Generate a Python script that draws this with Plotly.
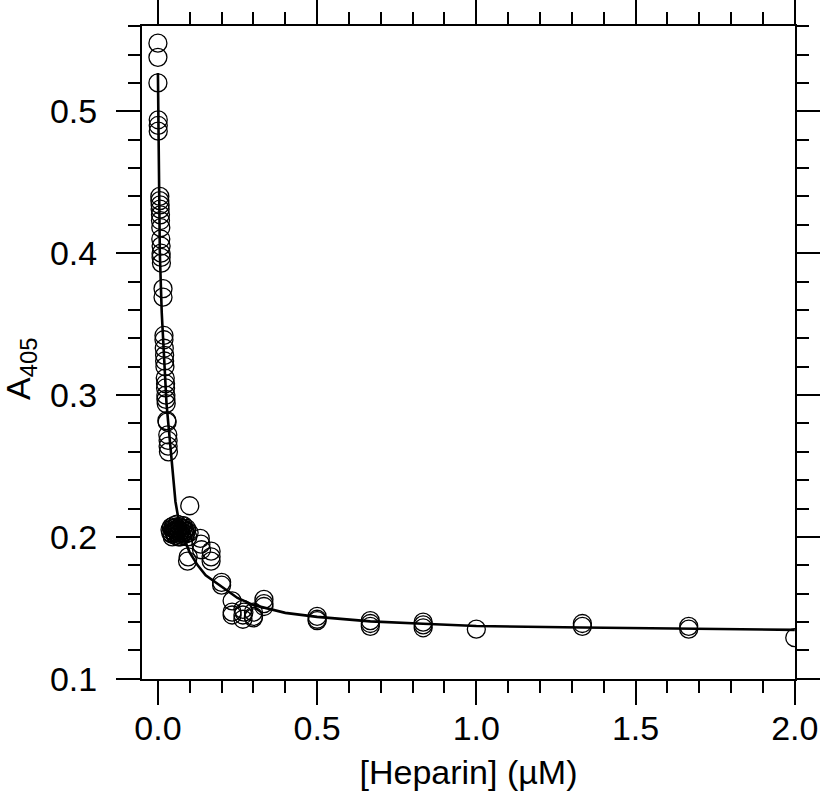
import plotly.graph_objects as go

# Measured data points: [Heparin] (µM) and A405
heparin = [
    0.000, 0.000, 0.000, 0.001, 0.001, 0.001,
    0.006, 0.006, 0.007, 0.007, 0.008, 0.008, 0.009, 0.009, 0.010, 0.010, 0.010, 0.011,
    0.016, 0.016,
    0.019, 0.019, 0.020, 0.021, 0.021, 0.022,
    0.023, 0.024, 0.024, 0.025, 0.025, 0.026,
    0.028, 0.029,
    0.031, 0.032, 0.032, 0.033,
    0.038, 0.040, 0.042, 0.044, 0.046, 0.048, 0.050, 0.052, 0.054, 0.056,
    0.058, 0.060, 0.062, 0.064, 0.066, 0.068, 0.070, 0.072, 0.075, 0.078,
    0.080, 0.083, 0.086, 0.090, 0.094, 0.098, 0.045, 0.055, 0.065, 0.075,
    0.085, 0.050, 0.060, 0.070, 0.080, 0.090,
    0.100, 0.093, 0.095,
    0.133, 0.135, 0.137,
    0.167, 0.167, 0.167,
    0.200, 0.200,
    0.233, 0.233, 0.233,
    0.267, 0.267, 0.267, 0.270,
    0.300, 0.300, 0.300,
    0.333, 0.333, 0.333,
    0.500, 0.500, 0.500,
    0.667, 0.667, 0.667,
    0.833, 0.833, 0.833,
    1.000,
    1.333, 1.333,
    1.667, 1.667,
    2.000,
]
a405 = [
    0.548, 0.538, 0.520, 0.494, 0.490, 0.486,
    0.440, 0.437, 0.434, 0.431, 0.427, 0.423, 0.418, 0.410, 0.405, 0.400, 0.397, 0.393,
    0.375, 0.369,
    0.342, 0.339, 0.333, 0.328, 0.324, 0.320,
    0.312, 0.308, 0.305, 0.300, 0.297, 0.294,
    0.282, 0.281,
    0.272, 0.268, 0.264, 0.260,
    0.205, 0.203, 0.207, 0.202, 0.206, 0.204, 0.208, 0.203, 0.205, 0.201,
    0.207, 0.204, 0.206, 0.202, 0.205, 0.203, 0.207, 0.204, 0.201, 0.206,
    0.203, 0.205, 0.202, 0.204, 0.200, 0.203, 0.200, 0.201, 0.200, 0.208,
    0.204, 0.206, 0.209, 0.200, 0.208, 0.206,
    0.222, 0.183, 0.186,
    0.199, 0.195, 0.191,
    0.190, 0.186, 0.183,
    0.168, 0.166,
    0.155, 0.147, 0.145,
    0.149, 0.145, 0.142, 0.147,
    0.147, 0.144, 0.143,
    0.156, 0.153, 0.151,
    0.144, 0.142, 0.141,
    0.141, 0.139, 0.137,
    0.140, 0.138, 0.136,
    0.135,
    0.139, 0.137,
    0.137, 0.135,
    0.129,
]

# Fitted curve
fit_x = [0.0, 0.006, 0.012, 0.020, 0.027, 0.033, 0.040, 0.048, 0.055, 0.065,
         0.080, 0.100, 0.125, 0.150, 0.200, 0.250, 0.300, 0.400, 0.500, 0.667,
         0.833, 1.000, 1.333, 1.667, 2.000]
fit_y = [0.527, 0.400, 0.358, 0.322, 0.294, 0.279, 0.260, 0.238, 0.225, 0.212,
         0.200, 0.189, 0.180, 0.173, 0.165, 0.157, 0.152, 0.1465, 0.1437, 0.1405,
         0.1388, 0.1372, 0.1362, 0.1355, 0.1345]

x_ticks = [0.0, 0.5, 1.0, 1.5, 2.0]
x_ticklabels = ["0.0", "0.5", "1.0", "1.5", "2.0"]
y_ticks = [0.1, 0.2, 0.3, 0.4, 0.5]
y_ticklabels = ["0.1", "0.2", "0.3", "0.4", "0.5"]

FONT = "Liberation Sans, Arial, sans-serif"

fig = go.Figure()
fig.add_trace(go.Scatter(
    x=heparin, y=a405, mode="markers",
    marker=dict(symbol="circle-open", size=18, color="black",
                line=dict(width=1.3, color="black")),
    showlegend=False,
))
fig.add_trace(go.Scatter(
    x=fit_x, y=fit_y, mode="lines",
    line=dict(color="black", width=2.6),
    showlegend=False,
))

axis_common = dict(
    showline=True, linecolor="black", linewidth=2,
    mirror="allticks", ticks="outside", ticklen=24, tickwidth=2, tickcolor="black",
    showgrid=False, zeroline=False, automargin=False,
    tickfont=dict(family=FONT, size=34, color="black"),
)

fig.update_xaxes(
    range=[-0.05, 2.0008],
    tickmode="array", tickvals=x_ticks, ticktext=x_ticklabels,
    minor=dict(ticks="outside", ticklen=12, tickwidth=2, tickcolor="black", dtick=0.1, tick0=0),
    title=dict(text="[Heparin] (µM)", font=dict(family=FONT, size=34, color="black"), standoff=14),
    ticklabelstandoff=-6,
    **axis_common,
)
fig.update_yaxes(
    range=[0.0999, 0.5601],
    tickmode="array", tickvals=y_ticks, ticktext=y_ticklabels,
    minor=dict(ticks="outside", ticklen=12, tickwidth=2, tickcolor="black", dtick=0.02, tick0=0.1),
    ticklabelstandoff=12,
    **axis_common,
)

# y-axis title as a rotated annotation for precise placement
fig.add_annotation(
    text="A<sub>405</sub>", textangle=-90, showarrow=False,
    xref="paper", yref="paper", x=-0.185, y=0.475,
    xanchor="center", yanchor="middle",
    font=dict(family=FONT, size=34, color="black"),
)

fig.update_layout(
    width=820, height=812,
    margin=dict(l=142, r=25, t=26, b=133),
    plot_bgcolor="white", paper_bgcolor="white",
)

fig.write_html(
    "out.html",
    config={"displayModeBar": False},
    post_script="document.body.style.margin='0';document.body.style.overflow='hidden';",
)
